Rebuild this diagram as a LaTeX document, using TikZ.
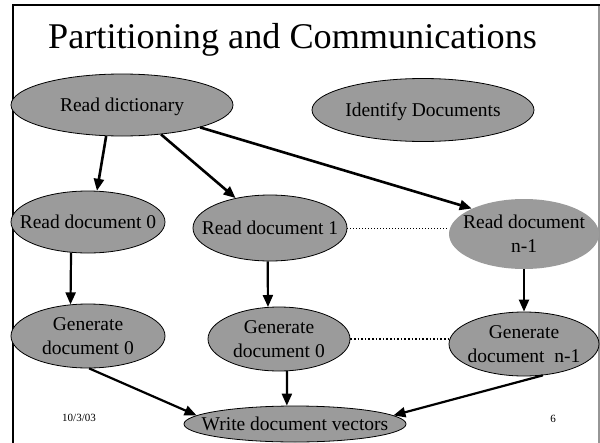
\documentclass[tikz,border=0pt]{standalone}
\usepackage{fontspec}
\setmainfont{Liberation Serif}
\usetikzlibrary{arrows.meta,shapes.geometric}
\definecolor{ellfill}{RGB}{155,155,155}
\definecolor{framegray}{RGB}{150,150,150}
\newcommand\zt[1]{\makebox[0pt]{\raisebox{-0.36em}[0pt][0pt]{\begin{tabular}{@{}c@{}}#1\end{tabular}}}}
\tikzset{
  ell/.style={ellipse, fill=ellfill, draw=black, line width=0.8pt, inner sep=0pt,
    font=\fontsize{19.5}{24}\selectfont},
  arr/.style={line width=2.6pt, -{Triangle[length=12pt,width=10pt]}},
  arrb/.style={line width=2.2pt, -{Triangle[length=12pt,width=10pt]}},
  dotline/.style={line width=1pt, dotted},
  dotlineb/.style={line width=1.6pt, dotted},
  foot/.style={font=\fontsize{11}{13}\selectfont, inner sep=0pt}
}
\begin{document}
\begin{tikzpicture}[x=1pt,y=-1pt]
\useasboundingbox (0,0) rectangle (600,442);
% frame
\draw[framegray, line width=1.2pt] (599,5) -- (599,450);
\draw[black, line width=2.6pt] (13,450) -- (13,5) -- (600,5);
% title
\node[anchor=base west, inner sep=0pt, font=\fontsize{36.2}{40}\selectfont] (title) at (48,48) {Partitioning and Communications};
% nodes
\node[ell, minimum width=222pt, minimum height=62pt] (rd) at (122,105) {\zt{Read dictionary}};
\node[ell, minimum width=222pt, minimum height=63pt] (idd) at (423,110) {\zt{Identify Documents}};
\node[ell, minimum width=154pt, minimum height=62pt] (rd0) at (88,222) {\zt{Read document 0}};
\node[ell, minimum width=154pt, minimum height=66pt] (rd1) at (270,228) {\zt{Read document 1}};
\node[ell, draw=none, minimum width=150pt, minimum height=70pt] (rdn) at (524,234) {\zt{Read document\\n-1}};
\node[ell, minimum width=154pt, minimum height=64pt] (gd0) at (88,336) {\zt{Generate\\document 0}};
\node[ell, minimum width=142pt, minimum height=64pt] (gd1) at (279,339) {\zt{Generate\\document 0}};
\node[ell, minimum width=150pt, minimum height=64pt] (gdn) at (524,344) {\zt{Generate\\document\ \ n-1}};
\node[ell, minimum width=222pt, minimum height=36pt] (wdv) at (295,424) {\zt{Write document vectors}};
% footer
\node[foot] (date) at (79,418) {10/3/03};
\node[foot] (pg) at (553,419) {6};
% arrows
\draw[arr] (rd.243) -- (rd0.74);
\draw[arr] (rd.-37) -- (rd1.139);
\draw[arr] (rd.-16) -- (rdn.154);
\draw[arrb] (rd0.241) -- (gd0.119);
\draw[arrb] (rd1.266) -- (gd1.109);
\draw[arrb] (rdn.south) -- (gdn.north);
\draw[arrb] (gd0.272) -- (wdv.175);
\draw[arrb] (gd1.284) -- (wdv.114);
\draw[arrb] (gdn.301) -- (wdv.5);
% dotted links
\draw[dotline] (rd1.east) -- (rd1.east -| rdn.west);
\draw[dotlineb] (gd1.east) -- (gd1.east -| gdn.west);
\end{tikzpicture}
\end{document}
